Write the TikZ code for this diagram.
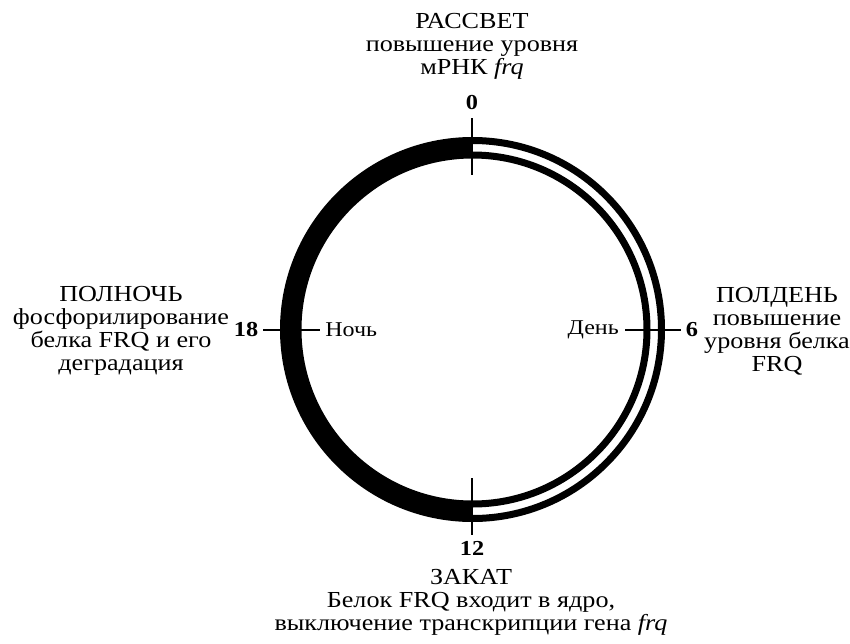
\documentclass[tikz,border=0pt]{standalone}
\usepackage{fontspec}
\setmainfont{Liberation Serif}[FakeStretch=1.14]
\begin{document}
\begin{tikzpicture}[x=0.75pt,y=-0.75pt,
  lbl/.style={font=\fontsize{17.2}{17.2}\selectfont, align=center, inner sep=0pt},
  num/.style={font=\fontsize{16}{16}\selectfont\bfseries, inner sep=0pt},
  side/.style={font=\fontsize{15.8}{16}\selectfont, inner sep=0pt},
  tick/.style={line width=1.5pt},
  ring/.style={line width=5.25pt}]
\useasboundingbox (0,0) rectangle (850,643);
\coordinate (c) at (472.5,329.5);
% left half: black crescent
\begin{scope}
  \clip (0,0) rectangle (472.5,643);
  \fill[even odd rule] (c) circle (192.5) (c) circle (171);
\end{scope}
% right half: double line
\begin{scope}
  \clip (472.5,0) rectangle (850,643);
  \draw[ring] (c) circle (189) (c) circle (174.5);
\end{scope}
% numbers
\node[num] (n0) at (472,103) {0};
\node[num] (n12) at (472,548) {12};
\node[num] (n18) at (246,329.5) {18};
\node[num] (n6) at (692,329.5) {6};
% inner words
\node[side, anchor=west] (night) at (325,329.5) {Ночь};
\node[side, anchor=east] (day) at (619,329.5) {День};
% tick ends
\coordinate (t0a) at (472,118);
\coordinate (t0b) at (472,175);
\coordinate (t12a) at (472,478);
\coordinate (t12b) at (472,535);
\coordinate (t18a) at (263,329.5);
\coordinate (t18b) at (320,329.5);
\coordinate (t6a) at (625,329.5);
\coordinate (t6b) at (681,329.5);
\draw[tick] (t0a) -- (t0b);
\draw[tick] (t12a) -- (t12b);
\draw[tick] (t18a) -- (t18b);
\draw[tick] (t6a) -- (t6b);
% text blocks
\node[lbl] (dawn) at (472,46) {РАССВЕТ\\повышение уровня\\мРНК \textit{frq}};
\node[lbl] (noon) at (777,331) {ПОЛДЕНЬ\\повышение\\уровня белка\\FRQ};
\node[lbl] (midnight) at (121,331) {ПОЛНОЧЬ\\фосфорилирование\\белка FRQ и его\\деградация};
\node[lbl] (dusk) at (471,602) {ЗАКАТ\\Белок FRQ входит в ядро,\\выключение транскрипции гена \textit{frq}};
\end{tikzpicture}
\end{document}
